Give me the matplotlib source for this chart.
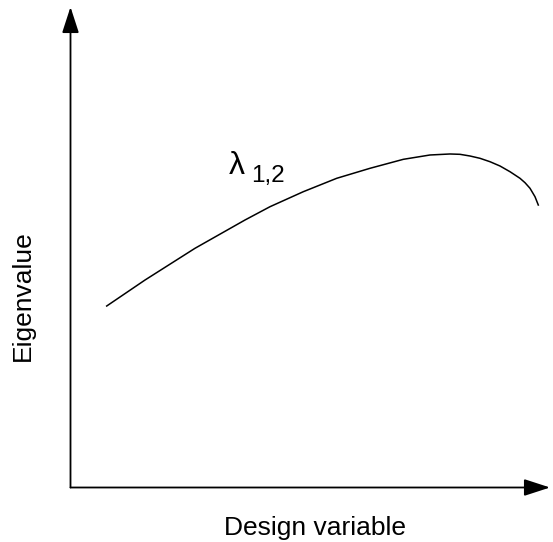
import matplotlib
matplotlib.use('Agg')
import matplotlib.pyplot as plt

# curve (design variable vs eigenvalue, arbitrary units 0..1)
design_var = [0.0755, 0.1554, 0.2596, 0.3639, 0.4161, 0.4855, 0.5552, 0.6246,
              0.6941, 0.7497, 0.7914, 0.8123, 0.8332, 0.8540, 0.8749, 0.8957,
              0.9166, 0.9374, 0.9479, 0.9583, 0.9687, 0.9756]
eigenvalue = [0.3777, 0.4318, 0.4978, 0.5567, 0.5844, 0.6156, 0.6435, 0.6643,
              0.6830, 0.6920, 0.6941, 0.6934, 0.6899, 0.6851, 0.6780, 0.6691,
              0.6572, 0.6435, 0.6343, 0.6227, 0.6052, 0.5879]

curve_label = "λ"
curve_sub = "1,2"
x_label = "Design variable"
y_label = "Eigenvalue"

plt.rcParams['font.family'] = ['Liberation Sans', 'DejaVu Sans']

W, H = 553, 542
fig = plt.figure(figsize=(W / 100, H / 100), dpi=100)
ax = fig.add_axes([70.5 / W, 1 - 487.5 / H, 479.5 / W, 480.5 / H])
ax.set_xlim(0, 1)
ax.set_ylim(0, 1)
ax.set_axis_off()

# axes drawn as arrows
arrow = dict(arrowstyle='-|>,head_length=1.6,head_width=0.52', mutation_scale=10,
             lw=1.3, color='black', shrinkA=0, shrinkB=0)
ax.annotate('', xy=(1, 0), xytext=(0, 0), xycoords='axes fraction', arrowprops=arrow)
ax.annotate('', xy=(0, 1), xytext=(0, 0), xycoords='axes fraction', arrowprops=arrow)

ax.plot(design_var, eigenvalue, color='black', lw=1.1, clip_on=False)

# labels
fig.text(229 / W, 1 - 174 / H, curve_label, fontsize=23, ha='left', va='baseline')
fig.text(251 / W, 1 - 182 / H, curve_sub, fontsize=17.5, ha='left', va='baseline')
fig.text(315 / W, 1 - 528 / H, x_label, fontsize=19, ha='center', va='center')
fig.text(23 / W, 1 - 296 / H, y_label, fontsize=19, ha='center', va='center',
         rotation=90)

fig.savefig('out.png', dpi=100)
